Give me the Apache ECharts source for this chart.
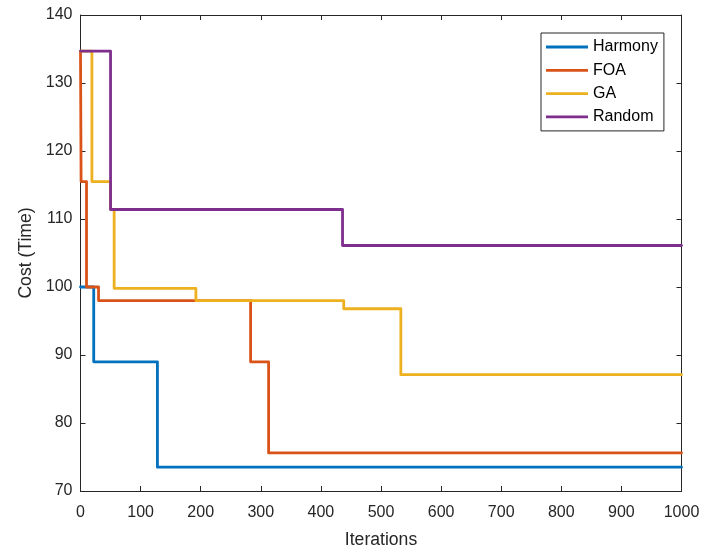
<!DOCTYPE html>
<html>
<head>
<meta charset="utf-8">
<script src="https://cdn.jsdelivr.net/npm/echarts@6/dist/echarts.min.js"></script>
<style>html,body{margin:0;padding:0;background:#fff;}#c{width:719px;height:548px;}</style>
</head>
<body>
<div id="c"></div>
<script>
// Step-change points (iteration where each value begins) and values
const seriesNames = ['Harmony', 'FOA', 'GA', 'Random'];
const harmonyIter = [0, 22, 128, 1000];
const harmonyCost = [100, 89, 73.5, 73.5];
const foaIter = [0, 1, 10, 30, 283, 313, 1000];
const foaCost = [134.7, 115.5, 100, 98, 89, 75.6, 75.6];
const gaIter = [0, 19, 50, 56, 192, 438, 533, 1000];
const gaCost = [134.7, 115.5, 111.4, 99.8, 98, 96.8, 87.1, 87.1];
const randomIter = [0, 50, 436, 1000];
const randomCost = [134.7, 111.4, 106.1, 106.1];
const xTicks = [0, 100, 200, 300, 400, 500, 600, 700, 800, 900, 1000];
const yTicks = [70, 80, 90, 100, 110, 120, 130, 140];

const colors = ['#0072BD', '#D95319', '#EDB120', '#7E2F8E'];
const iters = [harmonyIter, foaIter, gaIter, randomIter];
const costs = [harmonyCost, foaCost, gaCost, randomCost];
const axisColor = '#262626';
const font = 'Liberation Sans, Arial, Helvetica, sans-serif';

const chart = echarts.init(document.getElementById('c'), null, {renderer: 'canvas'});
const xBase = {
  type: 'value', min: xTicks[0], max: xTicks[xTicks.length - 1], interval: 100,
  axisLine: {show: true, onZero: false, lineStyle: {color: axisColor, width: 1}},
  axisTick: {show: true, inside: true, length: 5, lineStyle: {color: axisColor}},
  splitLine: {show: false}
};
const yBase = {
  type: 'value', min: yTicks[0], max: yTicks[yTicks.length - 1], interval: 10,
  axisLine: {show: true, onZero: false, lineStyle: {color: axisColor, width: 1}},
  axisTick: {show: true, inside: true, length: 5, lineStyle: {color: axisColor}},
  splitLine: {show: false}
};
chart.setOption({
  animation: false,
  backgroundColor: '#fff',
  grid: {left: 80.5, right: 37.5, top: 15, bottom: 57, containLabel: false, outerBoundsMode: 'none'},
  legend: {
    orient: 'vertical', left: 541, top: 33,
    data: seriesNames,
    icon: 'rect', itemWidth: 42, itemHeight: 2.8, itemGap: 5.3,
    padding: [5, 6, 5, 5],
    borderColor: axisColor, borderWidth: 1, backgroundColor: '#fff',
    textStyle: {fontFamily: font, fontSize: 16, color: '#000', lineHeight: 18}
  },
  xAxis: [
    Object.assign({}, xBase, {
      position: 'bottom', name: 'Iterations', nameLocation: 'middle', nameGap: 40,
      nameTextStyle: {fontFamily: font, fontSize: 17.6, color: axisColor},
      axisLabel: {show: true, margin: 14, fontFamily: font, fontSize: 16, color: axisColor,
        formatter: v => String(v)}
    }),
    Object.assign({}, xBase, {position: 'top', axisLabel: {show: false}})
  ],
  yAxis: [
    Object.assign({}, yBase, {
      position: 'left', name: 'Cost (Time)', nameLocation: 'middle', nameGap: 45,
      nameTextStyle: {fontFamily: font, fontSize: 17.6, color: axisColor},
      axisLabel: {show: true, margin: 8, fontFamily: font, fontSize: 16, color: axisColor,
        formatter: v => String(v)}
    }),
    Object.assign({}, yBase, {position: 'right', axisLabel: {show: false}})
  ],
  series: seriesNames.map((n, i) => ({
    name: n, type: 'line', step: 'end', xAxisIndex: 0, yAxisIndex: 0,
    data: iters[i].map((x, j) => [x, costs[i][j]]),
    showSymbol: false, symbol: 'none',
    lineStyle: {color: colors[i], width: 2.8, join: 'round', cap: 'round'},
    itemStyle: {color: colors[i]},
    z: 2 + i
  }))
});
</script>
</body>
</html>
